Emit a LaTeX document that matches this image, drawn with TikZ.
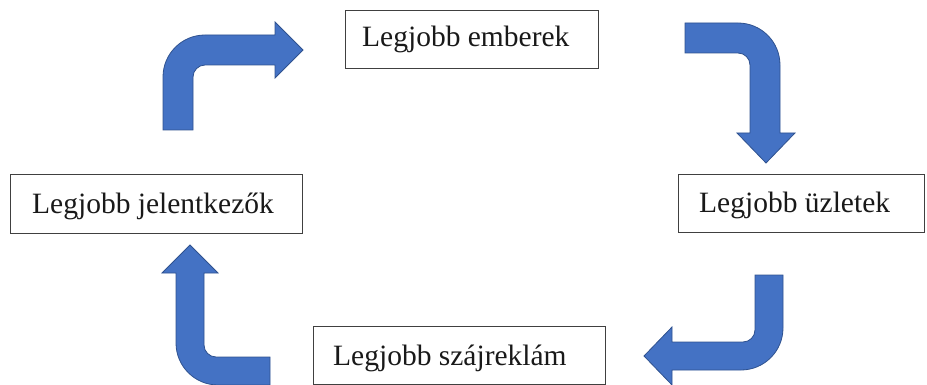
\documentclass[tikz,border=0pt]{standalone}
\usepackage{fontspec}
\setmainfont{Liberation Serif}
\definecolor{arrowfill}{HTML}{4472C4}
\definecolor{arrowline}{HTML}{2F528F}
\begin{document}
\begin{tikzpicture}[x=1pt,y=-1pt,
  box/.style={draw=black!75,line width=1.1pt,fill=white,rectangle,inner sep=0pt,anchor=north west},
  label/.style={anchor=base west,inner sep=0pt,text=black!90,font=\fontsize{29.5}{35}\selectfont},
  bent/.style={fill=arrowfill,draw=arrowline,line width=0.8pt,line join=miter}]
\useasboundingbox (0,0) rectangle (927,385);
\clip (0,0) rectangle (927,385);

% boxes
\node[box,minimum width=253pt,minimum height=58pt] (b1) at (345,10) {};
\node[box,minimum width=246pt,minimum height=58pt] (b2) at (678,174) {};
\node[box,minimum width=292pt,minimum height=58pt] (b3) at (313,326) {};
\node[box,minimum width=292pt,minimum height=59pt] (b4) at (10,174) {};

% texts
\node[label] (t1) at (362,47) {Legjobb emberek};
\node[label] (t2) at (699,212) {Legjobb üzletek};
\node[label] (t3) at (333,365) {Legjobb szájreklám};
\node[label] (t4) at (32,213) {Legjobb jelentkezők};

% bent block arrows
% up, then right
\filldraw[bent] (163,130) -- (163,77) .. controls (163,53.8) and (181.8,35) .. (205,35)
  -- (275,35) -- (275,22) -- (303,50) -- (275,78) -- (275,65) -- (205,65)
  .. controls (198.4,65) and (193,70.4) .. (193,77) -- (193,130) -- cycle;
% right, then down
\filldraw[bent] (685,23) -- (738,23) .. controls (761.2,23) and (780,41.8) .. (780,65)
  -- (780,133) -- (795,133) -- (766,163) -- (737,133) -- (750,133) -- (750,65)
  .. controls (750,58.4) and (744.6,53) .. (738,53) -- (685,53) -- cycle;
% down, then left
\filldraw[bent] (755,275) -- (783,275) -- (783,328) .. controls (783,351.2) and (764.2,370) .. (741,370)
  -- (672,370) -- (672,385) -- (644,356) -- (672,327) -- (672,342) -- (743,342)
  .. controls (749.6,342) and (755,336.6) .. (755,330) -- cycle;
% left, then up
\filldraw[bent] (270,357) -- (216,357) .. controls (209.4,357) and (204,351.6) .. (204,345)
  -- (204,273) -- (218,273) -- (190,245) -- (162,273) -- (176,273) -- (176,343)
  .. controls (176,366.2) and (194.8,385) .. (218,385) -- (270,385) -- cycle;
\end{tikzpicture}
\end{document}
